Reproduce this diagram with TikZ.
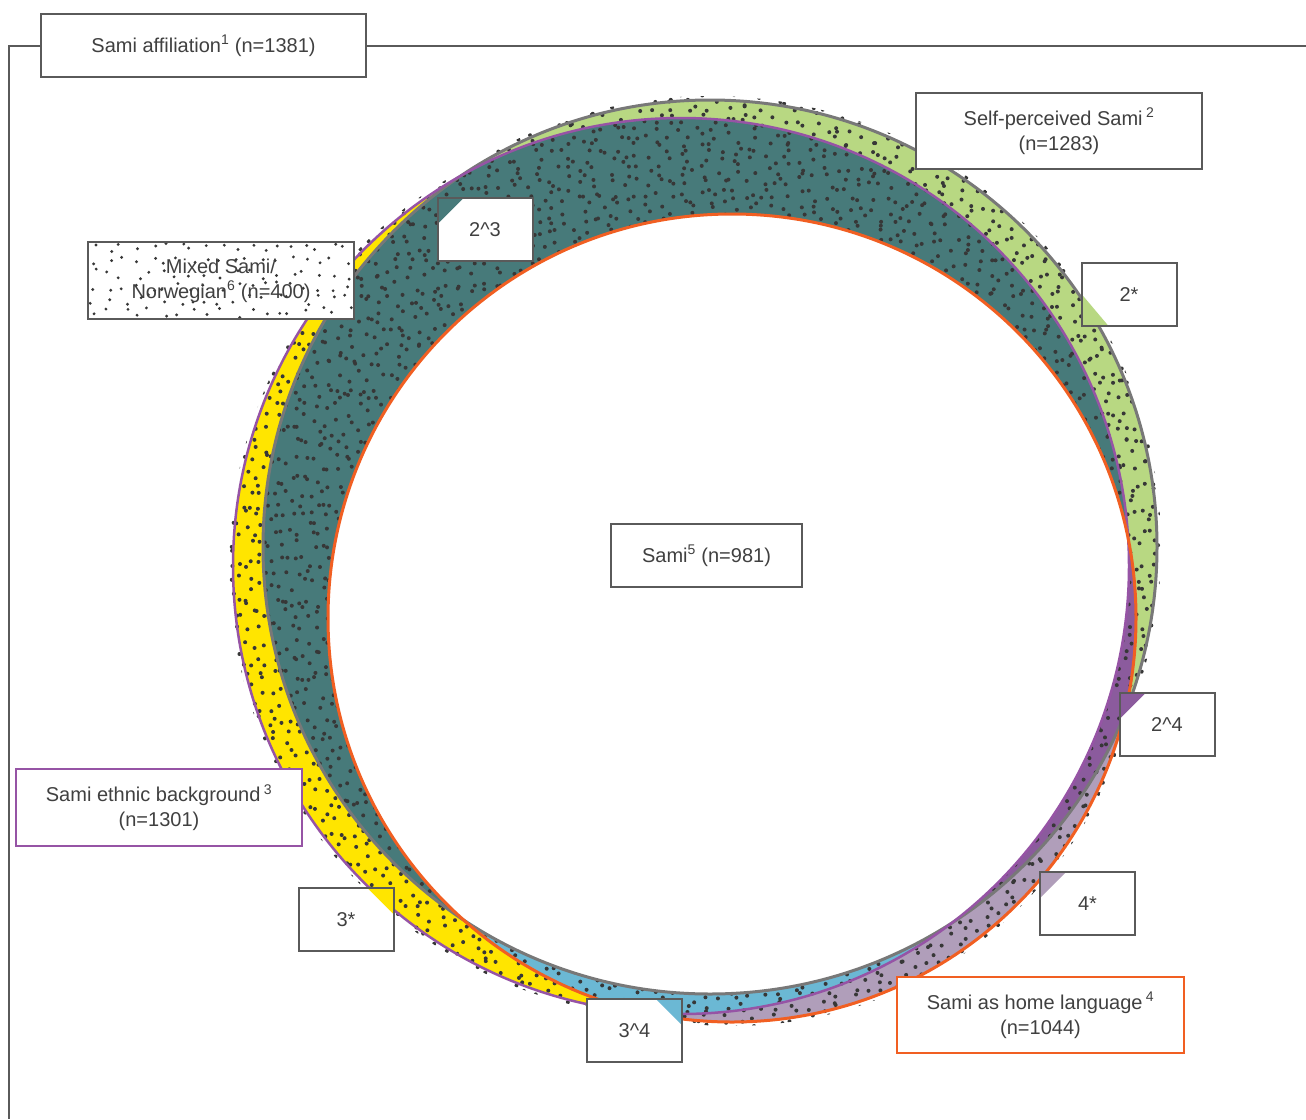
\documentclass[tikz,border=0pt]{standalone}
\usepackage{fontspec}
\setmainfont{Liberation Sans}
\definecolor{txt}{RGB}{64,64,64}
\definecolor{boxgray}{RGB}{90,90,90}
\definecolor{dotc}{RGB}{55,55,55}
\definecolor{greenc}{RGB}{184,216,130}
\definecolor{tealc}{RGB}{71,122,122}
\definecolor{yellowc}{RGB}{255,229,0}
\definecolor{bluec}{RGB}{107,184,212}
\definecolor{mauvec}{RGB}{176,158,186}
\definecolor{purplec}{RGB}{139,91,157}
\definecolor{greyline}{RGB}{120,120,120}
\definecolor{purpleline}{RGB}{150,84,165}
\definecolor{orangeline}{RGB}{241,95,34}
\newcommand{\selfcirc}{(710,547) circle (447pt)}
\newcommand{\ethncirc}{(681,566) circle (448pt)}
\newcommand{\homecirc}{(732,618) circle (404pt)}
\tikzset{
            box/.style={draw=boxgray, line width=2pt, fill=white, text=txt, align=center,
                        inner sep=0pt, font=\fontsize{20}{25}\selectfont},
            tag/.style={box, minimum width=95pt, minimum height=63pt},
            frame/.style={draw=boxgray, line width=2pt},
            tri nw/.style={path picture={\fill[#1] (path picture bounding box.north west) -- ++(26,0) -- ++(-26,26) -- cycle;}},
            tri ne/.style={path picture={\fill[#1] (path picture bounding box.north east) -- ++(-26,0) -- ++(26,26) -- cycle;}},
            tri sw/.style={path picture={\fill[#1] (path picture bounding box.south west) -- ++(0,-32) -- ++(27,32) -- cycle;}}
        }

\begin{document}
\begin{tikzpicture}[x=1pt, y=-1pt]
                \useasboundingbox (0,0) rectangle (1306,1119);
                % set regions
                \fill[greenc] \selfcirc;
                \fill[yellowc] \ethncirc;
                \fill[mauvec] \homecirc;
                \begin{scope}
                    \clip \selfcirc;
                    \fill[tealc] \ethncirc;
                    \fill[purplec] \homecirc;
                \end{scope}
                \begin{scope}
                    \clip \ethncirc;
                    \fill[bluec] \homecirc;
                \end{scope}
                % mixed Sami/Norwegian dots (jittered sunflower)
                \pgfmathsetseed{1381}
                \begin{scope}
                    \clip (710,547) circle (451pt) (681,566) circle (452pt) (732,618) circle (408pt);
                    \foreach \i in {1,...,2900}{
                        \pgfmathsetmacro\ang{360*frac(\i*0.381966)+1.2*rand}
                        \pgfmathsetmacro\rad{100*sqrt(12.25+11.76*((\i-0.5)/2900))+4*rand}
                        \fill[dotc] (715,570) ++(\ang:\rad pt) circle (2pt);
                    }
                \end{scope}
                \begin{scope}
                    \clip \selfcirc;
                    \clip \ethncirc;
                    \fill[white] \homecirc;
                \end{scope}
                % outlines
                \draw[greyline, line width=3pt] \selfcirc;
                \draw[purpleline, line width=2.5pt] \ethncirc;
                \draw[orangeline, line width=3pt] \homecirc;

                % labels
                \node[box, minimum width=325pt, minimum height=63pt] (affil) at (203.5,45.5) {Sami affiliation\textsuperscript{1} (n=1381)};
                \coordinate (frtl) at (9,45.5);
                \coordinate (frbl) at (9,1119);
                \coordinate (frtr) at (1306,45.5);
                \draw[frame] (affil.west) -- (frtl) -- (frbl);
                \draw[frame] (affil.east) -- (frtr);

                \node[box, minimum width=286pt, minimum height=76pt] (selfp) at (1059,131) {Self-perceived Sami\,\textsuperscript{2}\\(n=1283)};
                \node[box, draw=purpleline, line width=2.5pt, minimum width=286pt, minimum height=77pt] (ethn) at (159,807.5) {Sami ethnic background\,\textsuperscript{3}\\(n=1301)};
                \node[box, draw=orangeline, line width=2.5pt, minimum width=287pt, minimum height=76pt] (home) at (1040.5,1015) {Sami as home language\,\textsuperscript{4}\\(n=1044)};
                \node[box, minimum width=191pt, minimum height=63pt] (sami) at (706.5,555.5) {Sami\textsuperscript{5} (n=981)};
                \node[box, minimum width=266pt, minimum height=77pt,
                      path picture={\foreach \u in {0,...,18}{\foreach \v in {0,...,5}{
                          \pgfmathsetmacro\dx{7+14*\u+5*rand}
                          \pgfmathsetmacro\dy{6.5+12.8*\v+5*rand}
                          \fill[dotc] ([xshift=\dx pt, yshift=\dy pt]path picture bounding box.south west) circle (1.6pt);}}}]
                      (mixed) at (221,280.5) {Mixed Sami/\\Norwegian\textsuperscript{6} (n=400)};

                \node[tag, tri sw=greenc] (t2) at (1129,294.5) {2*};
                \node[tag, tri nw=tealc] (t23) at (485,229.5) {2\textasciicircum 3};
                \node[tag, tri nw=purplec] (t24) at (1167,724.5) {2\textasciicircum 4};
                \node[tag, tri ne=yellowc] (t3) at (346,919.5) {3*};
                \node[tag, tri ne=bluec] (t34) at (634.5,1030.5) {3\textasciicircum 4};
                \node[tag, tri nw=mauvec] (t4) at (1087.5,903.5) {4*};
\end{tikzpicture}
\end{document}
